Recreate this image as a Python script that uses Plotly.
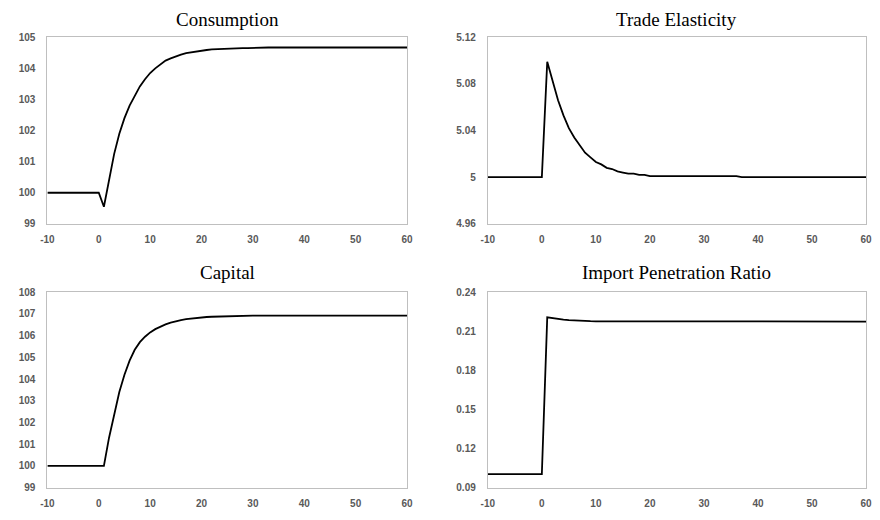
import plotly.graph_objects as go

periods = list(range(-10, 61))

consumption = [100.0] * 11 + [
    99.55, 100.40, 101.25, 101.90, 102.40, 102.80, 103.12, 103.42, 103.65, 103.85,
    104.00, 104.13, 104.25, 104.32, 104.39, 104.44, 104.49, 104.52, 104.55, 104.57,
    104.59, 104.61, 104.62, 104.63, 104.64, 104.64, 104.65, 104.65, 104.65, 104.66,
    104.66, 104.66, 104.67, 104.67, 104.67, 104.67, 104.67, 104.67, 104.67, 104.67,
    104.67, 104.67, 104.67, 104.67, 104.67, 104.67, 104.67, 104.67, 104.67, 104.67,
    104.67, 104.67, 104.67, 104.67, 104.67, 104.67, 104.67, 104.67, 104.67, 104.67,
]

trade_elasticity = [5.0] * 11 + [
    5.099, 5.082, 5.066, 5.053, 5.042, 5.034, 5.027, 5.021, 5.017, 5.013,
    5.011, 5.008, 5.007, 5.005, 5.004, 5.003, 5.003, 5.002, 5.002, 5.001,
    5.001, 5.001, 5.001, 5.001, 5.001, 5.001, 5.001, 5.001, 5.001, 5.001,
    5.001, 5.001, 5.001, 5.001, 5.001, 5.001, 5.000, 5.000, 5.000, 5.000,
    5.000, 5.000, 5.000, 5.000, 5.000, 5.000, 5.000, 5.000, 5.000, 5.000,
    5.000, 5.000, 5.000, 5.000, 5.000, 5.000, 5.000, 5.000, 5.000, 5.000,
]

capital = [100.0] * 12 + [
    101.30, 102.40, 103.40, 104.20, 104.85, 105.35, 105.70, 105.95, 106.15,
    106.30, 106.42, 106.52, 106.60, 106.67, 106.72, 106.76, 106.79, 106.82, 106.84,
    106.86, 106.87, 106.88, 106.89, 106.90, 106.90, 106.91, 106.92, 106.92, 106.92,
    106.92, 106.92, 106.92, 106.92, 106.92, 106.92, 106.92, 106.92, 106.92, 106.92,
    106.92, 106.92, 106.92, 106.92, 106.92, 106.92, 106.92, 106.92, 106.92, 106.92,
    106.92, 106.92, 106.92, 106.92, 106.92, 106.92, 106.92, 106.92, 106.92, 106.92,
]

import_penetration = [0.1003] * 11 + [
    0.2207, 0.2200, 0.2194, 0.2190, 0.2186, 0.2183, 0.2181, 0.2179, 0.2178, 0.2177,
    0.2177, 0.2176, 0.2176, 0.2175, 0.2175, 0.2175, 0.2175, 0.2175, 0.2175, 0.2175,
    0.2175, 0.2175, 0.2175, 0.2175, 0.2175, 0.2175, 0.2175, 0.2175, 0.2175, 0.2175,
    0.2175, 0.2175, 0.2175, 0.2175, 0.2175, 0.2175, 0.2175, 0.2175, 0.2175, 0.2175,
    0.2175, 0.2175, 0.2175, 0.2175, 0.2175, 0.2175, 0.2175, 0.2175, 0.2175, 0.2175,
    0.2175, 0.2175, 0.2175, 0.2175, 0.2175, 0.2175, 0.2175, 0.2175, 0.2175, 0.2175,
]

titles = ["Consumption", "Trade Elasticity", "Capital", "Import Penetration Ratio"]
series = [consumption, trade_elasticity, capital, import_penetration]

x_ticks = [-10, 0, 10, 20, 30, 40, 50, 60]
y_ticks = [
    [99, 100, 101, 102, 103, 104, 105],
    [4.96, 5.0, 5.04, 5.08, 5.12],
    [99, 100, 101, 102, 103, 104, 105, 106, 107, 108],
    [0.09, 0.12, 0.15, 0.18, 0.21, 0.24],
]
y_ticktext = [
    ["99", "100", "101", "102", "103", "104", "105"],
    ["4.96", "5", "5.04", "5.08", "5.12"],
    ["99", "100", "101", "102", "103", "104", "105", "106", "107", "108"],
    ["0.09", "0.12", "0.15", "0.18", "0.21", "0.24"],
]

W, H = 880, 520
# plot-area boxes in pixels: (left, right, top, bottom)
boxes = [
    (41, 406, 32, 223),
    (488, 872, 32, 223),
    (41, 406, 293, 493),
    (488, 872, 293, 493),
]
title_y = [14, 273]

fig = go.Figure()
axis_gray = "#bfbfbf"
tick_font = dict(family="Liberation Sans", size=10, color="#595959", weight="bold")

for i, (ys, title) in enumerate(zip(series, titles)):
    n = i + 1
    xa = "x" if n == 1 else f"x{n}"
    ya = "y" if n == 1 else f"y{n}"
    fig.add_trace(go.Scatter(x=periods, y=ys, mode="lines",
                             line=dict(color="black", width=1.8),
                             xaxis=xa, yaxis=ya, showlegend=False,
                             hoverinfo="skip"))
    l, r, t, b = boxes[i]
    xkey = "xaxis" if n == 1 else f"xaxis{n}"
    ykey = "yaxis" if n == 1 else f"yaxis{n}"
    fig.update_layout(**{
        xkey: dict(domain=[l / W, r / W], anchor=ya, range=[-10, 60],
                   tickvals=x_ticks, ticktext=[str(v) for v in x_ticks],
                   showgrid=False, zeroline=False, showline=True,
                   linecolor=axis_gray, linewidth=1, mirror=True,
                   ticks="", tickfont=tick_font, ticklabelstandoff=6),
        ykey: dict(domain=[1 - b / H, 1 - t / H], anchor=xa,
                   range=[y_ticks[i][0], y_ticks[i][-1]],
                   tickvals=y_ticks[i], ticktext=y_ticktext[i],
                   showgrid=False, zeroline=False, showline=True,
                   linecolor=axis_gray, linewidth=1, mirror=True,
                   ticks="", tickfont=tick_font, ticklabelstandoff=9),
    })
    fig.add_annotation(text=title, x=(l + r) / 2 / W, y=1 - title_y[i // 2] / H,
                       xref="paper", yref="paper", showarrow=False,
                       xanchor="center", yanchor="middle",
                       font=dict(family="Liberation Serif", size=19, color="black"))

fig.update_layout(width=W, height=H, margin=dict(l=0, r=0, t=0, b=0),
                  paper_bgcolor="white", plot_bgcolor="white")

fig.write_html("out.html")
